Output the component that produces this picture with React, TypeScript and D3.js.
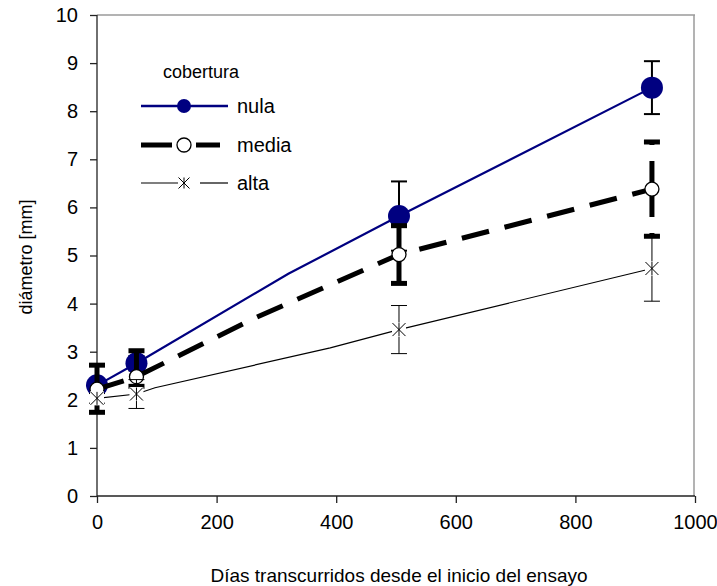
import React, { useEffect, useRef } from 'react';
import * as d3 from 'd3';

// measured days (with markers and error bars)
const days = [0, 66, 505, 928];

const nulaMean = [2.3, 2.76, 5.82, 8.49];
const nulaErr = [0.12, 0.15, 0.72, 0.55];
const mediaMean = [2.22, 2.48, 5.02, 6.38];
const mediaErrUp = [0.5, 0.54, 0.6, 0.98];
const mediaErrDown = [0.48, 0.2, 0.6, 0.98];
const altaMean = [2.03, 2.12, 3.46, 4.73];
const altaErr = [0.1, 0.3, 0.5, 0.68];

// line vertices (extra dates without markers)
const nulaLineDays = [0, 66, 320, 505, 928];
const nulaLine = [2.3, 2.76, 4.62, 5.82, 8.49];
const mediaLineDays = [0, 66, 264, 505, 928];
const mediaLine = [2.22, 2.48, 3.7, 5.02, 6.38];
const altaLineDays = [0, 66, 97, 390, 505, 928];
const altaLine = [2.03, 2.12, 2.25, 3.08, 3.46, 4.73];

const xTicks = [0, 200, 400, 600, 800, 1000];
const yTicks = [0, 1, 2, 3, 4, 5, 6, 7, 8, 9, 10];

const legendItems = ['nula', 'media', 'alta'];

const FONT = '"Liberation Sans", Arial, sans-serif';
const NAVY = '#000080';
const DASH = '28,16';

const App = () => {
  const ref = useRef<SVGSVGElement>(null);

  useEffect(() => {
    const svg = d3.select(ref.current);
    svg.selectAll('*').remove();

    const left = 97, right = 695, top = 15, bottom = 496;

    const x = d3.scaleLinear().domain([0, 1000]).range([left, right]);
    const y = d3.scaleLinear().domain([0, 10]).range([bottom, top]);

    // frame (top and right)
    svg.append('line')
      .attr('x1', left).attr('x2', x(1000)).attr('y1', top).attr('y2', top)
      .attr('stroke', '#9a9a9a').attr('stroke-width', 1.5);
    svg.append('line')
      .attr('x1', x(1000) - 1).attr('x2', x(1000) - 1).attr('y1', top).attr('y2', bottom)
      .attr('stroke', '#9a9a9a').attr('stroke-width', 1.5);

    // axes
    const yAxis = svg.append('g')
      .attr('transform', `translate(${left},0)`)
      .call(d3.axisLeft(y).tickValues(yTicks).tickSize(7).tickPadding(12).tickFormat(d3.format('d')));
    const xAxis = svg.append('g')
      .attr('transform', `translate(0,${bottom})`)
      .call(d3.axisBottom(x).tickValues(xTicks).tickSize(7).tickPadding(12).tickFormat(d3.format('d')));
    [yAxis, xAxis].forEach(a => {
      a.select('.domain').attr('stroke', '#222').attr('stroke-width', 1.3);
      a.selectAll('.tick line').attr('stroke', '#222').attr('stroke-width', 1.3);
      a.selectAll('.tick text')
        .attr('font-family', FONT).attr('font-size', 20).attr('fill', '#000');
    });
    xAxis.select('.domain').attr('d', `M${left},0H${right}`);
    yAxis.select('.domain').attr('d', `M0,${top}V${bottom}`);

    // axis titles
    svg.append('text')
      .attr('x', 399).attr('y', 582)
      .attr('text-anchor', 'middle')
      .attr('font-family', FONT).attr('font-size', 19)
      .text('Días transcurridos desde el inicio del ensayo');
    svg.append('text')
      .attr('transform', 'translate(32,257) rotate(-90)')
      .attr('text-anchor', 'middle')
      .attr('font-family', FONT).attr('font-size', 18)
      .text('diámetro [mm]');

    const line = (ds: number[], vs: number[]) =>
      d3.line<number>().x((_, i) => x(ds[i])).y(d => y(d))(vs);

    const errorBars = (means: number[], up: number[], down: number[], width: number, dashed: boolean) => {
      const g = svg.append('g').attr('stroke', '#000').attr('stroke-width', width);
      means.forEach((m, i) => {
        const cx = x(days[i]);
        [m + up[i], m - down[i]].forEach(end => {
          g.append('line')
            .attr('x1', cx).attr('x2', cx).attr('y1', y(m)).attr('y2', y(end))
            .attr('stroke-dasharray', dashed ? DASH : null);
          g.append('line')
            .attr('x1', cx - 8).attr('x2', cx + 8).attr('y1', y(end)).attr('y2', y(end));
        });
      });
    };

    const asterisk = (g: any, cx: number, cy: number, r: number) => {
      g.append('path')
        .attr('d', `M${cx - r},${cy - r}L${cx + r},${cy + r}M${cx - r},${cy + r}L${cx + r},${cy - r}M${cx},${cy - r}L${cx},${cy + r}`)
        .attr('stroke', '#000').attr('stroke-width', 1).attr('fill', 'none');
    };

    // nula
    errorBars(nulaMean, nulaErr, nulaErr, 2, false);
    svg.append('path').attr('d', line(nulaLineDays, nulaLine))
      .attr('fill', 'none').attr('stroke', NAVY).attr('stroke-width', 2.2);
    svg.selectAll('.nula').data(nulaMean).enter().append('circle')
      .attr('cx', (_, i) => x(days[i])).attr('cy', d => y(d)).attr('r', 11)
      .attr('fill', NAVY);

    // media
    errorBars(mediaMean, mediaErrUp, mediaErrDown, 5, true);
    svg.append('path').attr('d', line(mediaLineDays, mediaLine))
      .attr('fill', 'none').attr('stroke', '#000').attr('stroke-width', 5)
      .attr('stroke-dasharray', DASH);
    svg.selectAll('.media').data(mediaMean).enter().append('circle')
      .attr('cx', (_, i) => x(days[i])).attr('cy', d => y(d)).attr('r', 7)
      .attr('fill', '#fff').attr('stroke', '#000').attr('stroke-width', 1.3);

    // alta
    errorBars(altaMean, altaErr, altaErr, 1, false);
    svg.append('path').attr('d', line(altaLineDays, altaLine))
      .attr('fill', 'none').attr('stroke', '#000').attr('stroke-width', 1.2);
    const ag = svg.append('g');
    altaMean.forEach((m, i) => {
      ag.append('rect').attr('x', x(days[i]) - 7).attr('y', y(m) - 7).attr('width', 14).attr('height', 14).attr('fill', '#fff');
      asterisk(ag, x(days[i]), y(m), 6.5);
    });

    // legend
    const lg = svg.append('g');
    lg.append('text').attr('x', 163).attr('y', 78)
      .attr('font-family', FONT).attr('font-size', 18).text('cobertura');
    const ly = [106, 145, 183];
    legendItems.forEach((name, i) => {
      const yy = ly[i];
      if (name === 'nula') {
        lg.append('line').attr('x1', 141).attr('x2', 228).attr('y1', yy).attr('y2', yy)
          .attr('stroke', NAVY).attr('stroke-width', 2.5);
        lg.append('circle').attr('cx', 184).attr('cy', yy).attr('r', 7).attr('fill', NAVY);
      } else if (name === 'media') {
        lg.append('line').attr('x1', 141).attr('x2', 172).attr('y1', yy).attr('y2', yy)
          .attr('stroke', '#000').attr('stroke-width', 5);
        lg.append('line').attr('x1', 196).attr('x2', 220).attr('y1', yy).attr('y2', yy)
          .attr('stroke', '#000').attr('stroke-width', 5);
        lg.append('circle').attr('cx', 184).attr('cy', yy).attr('r', 7)
          .attr('fill', '#fff').attr('stroke', '#000').attr('stroke-width', 1.3);
      } else {
        lg.append('line').attr('x1', 141).attr('x2', 178).attr('y1', yy).attr('y2', yy)
          .attr('stroke', '#000').attr('stroke-width', 1.2);
        lg.append('line').attr('x1', 200).attr('x2', 228).attr('y1', yy).attr('y2', yy)
          .attr('stroke', '#000').attr('stroke-width', 1.2);
        asterisk(lg, 184, yy, 5.5);
      }
      lg.append('text').attr('x', 237).attr('y', yy + 7)
        .attr('font-family', FONT).attr('font-size', 20).text(name);
    });
  }, []);

  return (
    <svg ref={ref} width={717} height={586}
      style={{ position: 'absolute', left: 0, top: 0, background: '#fff' }} />
  );
};

export default App;
